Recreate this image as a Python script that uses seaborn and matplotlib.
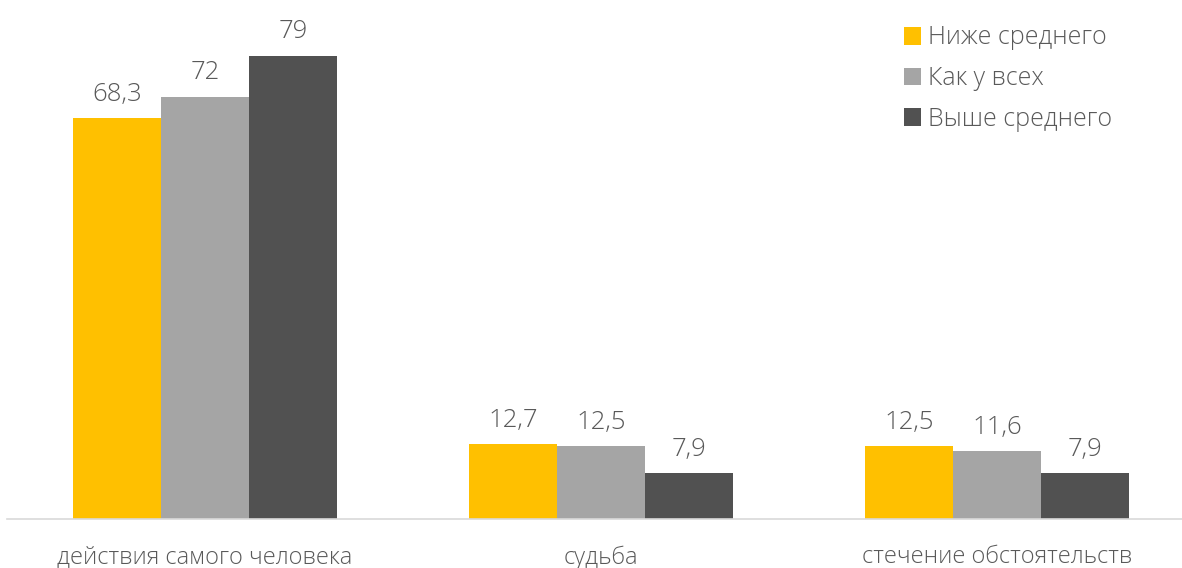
import matplotlib
matplotlib.use('Agg')
import matplotlib.pyplot as plt
import seaborn as sns
import pandas as pd
from matplotlib.patches import Patch

categories = ['действия самого человека', 'судьба', 'стечение обстоятельств']
groups = ['Ниже среднего', 'Как у всех', 'Выше среднего']
below_avg = [68.3, 12.7, 12.5]
like_all = [72, 12.5, 11.6]
above_avg = [79, 7.9, 7.9]
colors = ['#FFC000', '#A5A5A5', '#515151']

rows = []
for g, vals in zip(groups, [below_avg, like_all, above_avg]):
    for c, v in zip(categories, vals):
        rows.append({'category': c, 'group': g, 'value': v})
df = pd.DataFrame(rows)

sns.set_style('white')
plt.rcParams['font.family'] = ['Open Sans', 'DejaVu Sans']
text_color = '#595959'

fig = plt.figure(figsize=(11.82, 5.68), dpi=100)
ax = fig.add_axes([7 / 1182, 49 / 568, 1188 / 1182, 528 / 568])

sns.barplot(data=df, x='category', y='value', hue='group', hue_order=groups,
            palette=colors, width=0.665, saturation=1, linewidth=0,
            ax=ax, legend=False)

for container in ax.containers:
    labels = [f'{v:g}'.replace('.', ',') for v in container.datavalues]
    ax.bar_label(container, labels=labels, padding=8, fontsize=18.5,
                 color=text_color, fontweight='light')

ax.set_xlim(-0.5, 2.5)
ax.set_ylim(0, 90)
ax.set_xlabel('')
ax.set_ylabel('')
ax.set_yticks([])
ax.tick_params(axis='x', length=0, pad=19, labelsize=17, labelcolor=text_color)
for lbl in ax.get_xticklabels():
    lbl.set_fontweight('light')
for side in ['top', 'left', 'right']:
    ax.spines[side].set_visible(False)
ax.spines['bottom'].set_color('#D9D9D9')
ax.spines['bottom'].set_linewidth(1.2)

handles = [Patch(facecolor=c, edgecolor='none') for c in colors]
leg = fig.legend(handles, groups, loc='upper left', bbox_to_anchor=(881 / 1182, 1 - 3 / 568),
                 frameon=False, fontsize=18, handlelength=0.7, handleheight=0.7,
                 handletextpad=0.3, labelspacing=0.62, labelcolor=text_color)
for t in leg.get_texts():
    t.set_fontweight('light')

fig.savefig('out.png', dpi=100)
